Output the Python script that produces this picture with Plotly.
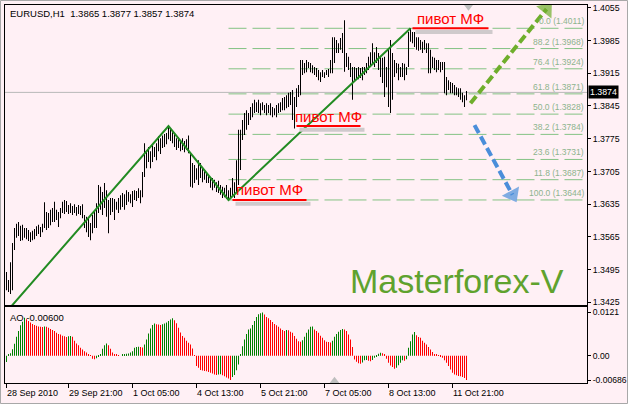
import plotly.graph_objects as go

# ---------------- data ----------------
highs = [1.3490, 1.3473, 1.3511, 1.3552, 1.3584, 1.3593, 1.3597, 1.3589, 1.3591, 1.3584,
         1.3584, 1.3580, 1.3575, 1.3578, 1.3582, 1.3588, 1.3591, 1.3586, 1.3593, 1.3639,
         1.3618, 1.3616, 1.3623, 1.3627, 1.3640, 1.3623, 1.3618, 1.3627, 1.3640, 1.3644,
         1.3642, 1.3633, 1.3637, 1.3631, 1.3635, 1.3629, 1.3633, 1.3631, 1.3635, 1.3612,
         1.3608, 1.3605, 1.3595, 1.3612, 1.3618, 1.3637, 1.3676, 1.3672, 1.3661, 1.3680,
         1.3665, 1.3644, 1.3648, 1.3648, 1.3646, 1.3640, 1.3648, 1.3654, 1.3659, 1.3656,
         1.3665, 1.3661, 1.3656, 1.3663, 1.3665, 1.3663, 1.3669, 1.3665, 1.3704, 1.3765,
         1.3751, 1.3757, 1.3748, 1.3761, 1.3757, 1.3765, 1.3780, 1.3776, 1.3782, 1.3785,
         1.3787, 1.3802, 1.3797, 1.3789, 1.3785, 1.3776, 1.3778, 1.3772, 1.3776, 1.3770,
         1.3774, 1.3782, 1.3744, 1.3723, 1.3719, 1.3712, 1.3729, 1.3723, 1.3714, 1.3708,
         1.3704, 1.3697, 1.3691, 1.3691, 1.3687, 1.3682, 1.3685, 1.3676, 1.3672, 1.3670,
         1.3676, 1.3665, 1.3670, 1.3691, 1.3682, 1.3729, 1.3794, 1.3794, 1.3815, 1.3830,
         1.3836, 1.3830, 1.3843, 1.3851, 1.3858, 1.3853, 1.3858, 1.3851, 1.3853, 1.3847,
         1.3851, 1.3847, 1.3851, 1.3843, 1.3840, 1.3847, 1.3851, 1.3853, 1.3862, 1.3864,
         1.3868, 1.3873, 1.3875, 1.3879, 1.3864, 1.3883, 1.3890, 1.3943, 1.3943, 1.3937,
         1.3943, 1.3939, 1.3937, 1.3932, 1.3928, 1.3926, 1.3922, 1.3917, 1.3922, 1.3917,
         1.3922, 1.3924, 1.3943, 1.3992, 1.3992, 1.3986, 1.3979, 1.3990, 1.4001, 1.4028,
         1.3958, 1.3950, 1.3937, 1.3928, 1.3928, 1.3926, 1.3928, 1.3926, 1.3928, 1.3928,
         1.3937, 1.3950, 1.3960, 1.3979, 1.3960, 1.3971, 1.3958, 1.3950, 1.3948, 1.3950,
         1.3928, 1.3965, 1.3986, 1.3958, 1.3943, 1.3937, 1.3935, 1.3928, 1.3937, 1.3935,
         1.3928, 1.4003, 1.4011, 1.4003, 1.4003, 1.3992, 1.3992, 1.3986, 1.3982, 1.3986,
         1.3979, 1.3979, 1.3965, 1.3950, 1.3948, 1.3943, 1.3943, 1.3939, 1.3939, 1.3939,
         1.3907, 1.3900, 1.3896, 1.3894, 1.3890, 1.3885, 1.3883, 1.3883, 1.3873, 1.3868,
         1.3877]
lows = [1.3451, 1.3447, 1.3443, 1.3451, 1.3537, 1.3563, 1.3567, 1.3556, 1.3558, 1.3563,
        1.3560, 1.3556, 1.3554, 1.3558, 1.3560, 1.3567, 1.3571, 1.3565, 1.3575, 1.3584,
        1.3580, 1.3584, 1.3590, 1.3597, 1.3597, 1.3601, 1.3586, 1.3605, 1.3616, 1.3614,
        1.3618, 1.3614, 1.3616, 1.3612, 1.3616, 1.3610, 1.3614, 1.3612, 1.3605, 1.3584,
        1.3575, 1.3565, 1.3558, 1.3573, 1.3584, 1.3584, 1.3616, 1.3623, 1.3612, 1.3627,
        1.3608, 1.3573, 1.3612, 1.3618, 1.3601, 1.3623, 1.3616, 1.3623, 1.3629, 1.3623,
        1.3633, 1.3640, 1.3637, 1.3629, 1.3644, 1.3642, 1.3648, 1.3637, 1.3650, 1.3693,
        1.3712, 1.3725, 1.3712, 1.3725, 1.3736, 1.3729, 1.3748, 1.3742, 1.3755, 1.3757,
        1.3763, 1.3774, 1.3770, 1.3765, 1.3757, 1.3751, 1.3755, 1.3748, 1.3751, 1.3746,
        1.3751, 1.3744, 1.3672, 1.3670, 1.3680, 1.3687, 1.3676, 1.3691, 1.3682, 1.3687,
        1.3680, 1.3680, 1.3670, 1.3665, 1.3670, 1.3661, 1.3659, 1.3655, 1.3648, 1.3650,
        1.3646, 1.3644, 1.3646, 1.3653, 1.3648, 1.3661, 1.3676, 1.3708, 1.3772, 1.3783,
        1.3794, 1.3804, 1.3815, 1.3821, 1.3830, 1.3832, 1.3830, 1.3825, 1.3836, 1.3830,
        1.3825, 1.3830, 1.3825, 1.3821, 1.3825, 1.3821, 1.3830, 1.3832, 1.3836, 1.3836,
        1.3840, 1.3843, 1.3847, 1.3815, 1.3797, 1.3843, 1.3864, 1.3868, 1.3911, 1.3915,
        1.3917, 1.3926, 1.3917, 1.3915, 1.3911, 1.3907, 1.3900, 1.3896, 1.3907, 1.3905,
        1.3911, 1.3907, 1.3915, 1.3915, 1.3937, 1.3958, 1.3958, 1.3965, 1.3958, 1.3918,
        1.3928, 1.3922, 1.3907, 1.3858, 1.3900, 1.3905, 1.3902, 1.3905, 1.3900, 1.3911,
        1.3915, 1.3922, 1.3928, 1.3937, 1.3928, 1.3937, 1.3922, 1.3907, 1.3894, 1.3864,
        1.3885, 1.3843, 1.3830, 1.3858, 1.3907, 1.3915, 1.3900, 1.3907, 1.3907, 1.3900,
        1.3911, 1.3928, 1.3982, 1.3979, 1.3971, 1.3965, 1.3963, 1.3965, 1.3958, 1.3965,
        1.3958, 1.3915, 1.3915, 1.3926, 1.3922, 1.3917, 1.3922, 1.3917, 1.3922, 1.3872,
        1.3868, 1.3879, 1.3872, 1.3872, 1.3868, 1.3868, 1.3864, 1.3858, 1.3853, 1.3843,
        1.3857]
last_open = 1.3865
last_close = 1.3874

ao_values = [-0.0018, 0.0003, 0.0007, 0.0018, 0.0033, 0.0053, 0.0069, 0.0085, 0.0095, 0.0106,
             0.0102, 0.0097, 0.0093, 0.0089, 0.0086, 0.0084, 0.0082, 0.0081, 0.0080, 0.0082,
             0.0081, 0.0078, 0.0075, 0.0072, 0.0069, 0.0064, 0.0061, 0.0059, 0.0056, 0.0054,
             0.0052, 0.0054, 0.0055, 0.0053, 0.0042, 0.0034, 0.0029, 0.0022, 0.0017, 0.0012,
             0.0009, 0.0003, 0.0001, -0.0009, -0.0010, -0.0007, -0.0002, 0.0003, 0.0019, 0.0029,
             0.0034, 0.0029, 0.0019, 0.0009, 0.0003, 0.0002, 0.0001, 0.0000, 0.0003, 0.0004,
             0.0005, 0.0006, 0.0009, 0.0012, 0.0022, 0.0024, 0.0025, 0.0024, 0.0023, 0.0031,
             0.0045, 0.0062, 0.0076, 0.0086, 0.0090, 0.0088, 0.0087, 0.0086, 0.0088, 0.0090,
             0.0093, 0.0097, 0.0101, 0.0105, 0.0099, 0.0091, 0.0078, 0.0065, 0.0055, 0.0050,
             0.0042, 0.0036, 0.0031, 0.0020, 0.0001, -0.0029, -0.0034, -0.0040, -0.0042, -0.0043,
             -0.0044, -0.0046, -0.0048, -0.0050, -0.0053, -0.0054, -0.0053, -0.0052, -0.0055, -0.0058,
             -0.0061, -0.0064, -0.0068, -0.0060, -0.0054, -0.0041, -0.0025, 0.0003, 0.0026, 0.0045,
             0.0061, 0.0073, 0.0076, 0.0086, 0.0097, 0.0108, 0.0116, 0.0119, 0.0121, 0.0115,
             0.0108, 0.0105, 0.0100, 0.0094, 0.0089, 0.0085, 0.0081, 0.0076, 0.0072, 0.0069,
             0.0072, 0.0071, 0.0067, 0.0064, 0.0055, 0.0047, 0.0040, 0.0039, 0.0043, 0.0053,
             0.0064, 0.0073, 0.0081, 0.0082, 0.0073, 0.0069, 0.0064, 0.0056, 0.0050, 0.0043,
             0.0039, 0.0038, 0.0037, 0.0042, 0.0053, 0.0061, 0.0067, 0.0072, 0.0075, 0.0073,
             0.0069, 0.0059, 0.0045, 0.0024, -0.0011, -0.0017, -0.0021, -0.0023, -0.0019, -0.0013,
             -0.0012, -0.0014, -0.0016, -0.0012, -0.0006, -0.0002, 0.0005, 0.0008, 0.0007, 0.0002,
             -0.0009, -0.0020, -0.0028, -0.0032, -0.0037, -0.0034, -0.0027, -0.0020, -0.0013, -0.0014,
             -0.0010, 0.0022, 0.0040, 0.0059, 0.0066, 0.0057, 0.0052, 0.0050, 0.0042, 0.0036,
             0.0031, 0.0024, 0.0017, 0.0010, 0.0004, 0.0002, 0.0001, -0.0003, -0.0006, -0.0013,
             -0.0020, -0.0029, -0.0039, -0.0048, -0.0053, -0.0055, -0.0057, -0.0058, -0.0060, -0.0063,
             -0.00686]
ao_current_label = "AO -0.00600"

tick_bars = [0, 31, 63, 95, 127, 159, 191, 223]
tick_labels = ["28 Sep 2010", "29 Sep 21:00", "1 Oct 05:00", "4 Oct 13:00",
               "5 Oct 21:00", "7 Oct 05:00", "8 Oct 13:00", "11 Oct 21:00"]
price_ticks = [1.4055, 1.3985, 1.3915, 1.3845, 1.3775, 1.3705, 1.3635, 1.3565, 1.3495, 1.3425]
ao_ticks = [0.0121, 0.0, -0.00686]
ao_tick_labels = ["0.0121", "0.00", "-0.00686"]

zigzag_bars = [-2, 81, 111, 202]
zigzag_prices = [1.3395, 1.3802, 1.3644, 1.4011]

fib_ratios = [1.0, 0.882, 0.764, 0.618, 0.5, 0.382, 0.236, 0.118, 0.0]
fib_names = ["0.0", "88.2", "76.4", "61.8", "50.0", "38.2", "23.6", "11.8", "100.0"]
fib_start_bar = 111
fib_end_bar = 288

pivot_from = [203, 145, 113]
pivot_to = [241, 177, 150]
pivot_text = "пивот МФ"

up_arrow_bars = [232, 270]
up_arrow_prices = [1.3851, 1.4052]
down_arrow_bars = [234, 253]
down_arrow_prices = [1.3804, 1.3655]

# ---------------- styling ----------------
BG = "#FFF0F5"
FONT = "Liberation Sans, Arial, sans-serif"
bars = list(range(len(highs)))
fib_low, fib_high = zigzag_prices[2], zigzag_prices[3]
pivot_prices = [zigzag_prices[3], zigzag_prices[1], zigzag_prices[2]]
BAR_W = 0.1  # thin bars are widened by plotly to exactly one device pixel

fig = go.Figure()

# price bars (high-low range)
fig.add_trace(go.Bar(x=bars, base=lows, y=[h - l for h, l in zip(highs, lows)],
                     width=BAR_W, marker=dict(color="black", line=dict(width=0)),
                     xaxis="x", yaxis="y", hoverinfo="skip"))
# zigzag
fig.add_trace(go.Scatter(x=zigzag_bars, y=zigzag_prices, mode="lines",
                         line=dict(color="#228B22", width=2), xaxis="x", yaxis="y"))
# forecast arrows
fig.add_trace(go.Scatter(x=up_arrow_bars, y=up_arrow_prices, mode="lines+markers",
                         line=dict(color="#6FAE2C", width=4, dash="9px,4px"),
                         marker=dict(symbol="triangle-up", size=[0, 17], color="#6FAE2C",
                                     angleref="previous", line=dict(width=0)),
                         xaxis="x", yaxis="y"))
fig.add_trace(go.Scatter(x=down_arrow_bars, y=down_arrow_prices, mode="lines+markers",
                         line=dict(color="#4A8EDA", width=4, dash="9px,4px"),
                         marker=dict(symbol="triangle-up", size=[0, 17], color="#4A8EDA",
                                     angleref="previous", line=dict(width=0)),
                         xaxis="x", yaxis="y"))

# AO histogram, coloured by direction
ao_colors = ["#008000"] + ["#008000" if ao_values[i] > ao_values[i - 1] else "#FF0000"
                           for i in range(1, len(ao_values))]
fig.add_trace(go.Bar(x=bars, y=ao_values, width=BAR_W,
                     marker=dict(color=ao_colors, line=dict(width=0)),
                     xaxis="x2", yaxis="y2", hoverinfo="skip"))

# gray markers (chart shift / separator)
fig.add_trace(go.Scatter(x=[bars[-1] + 1], y=[1.4058], mode="markers", cliponaxis=False,
                         marker=dict(symbol="triangle-down", size=9, color="#BEBEBE"),
                         xaxis="x", yaxis="y"))
fig.add_trace(go.Scatter(x=[164], y=[-0.0072], mode="markers", cliponaxis=False,
                         marker=dict(symbol="triangle-up", size=9, color="#BEBEBE"),
                         xaxis="x2", yaxis="y2"))

shapes = []
# current price line
shapes.append(dict(type="line", xref="x domain", x0=0, x1=1, yref="y",
                   y0=last_close, y1=last_close, line=dict(color="#B8B8B8", width=1),
                   layer="below"))
# fibonacci levels
for r in fib_ratios:
    p = fib_low + r * (fib_high - fib_low)
    shapes.append(dict(type="line", xref="x", yref="y", x0=fib_start_bar, x1=fib_end_bar,
                       y0=p, y1=p, line=dict(color="#84C284", width=1, dash="18px,6px"),
                       layer="below"))
# pivot underlines with shadow
for a, b, p in zip(pivot_from, pivot_to, pivot_prices):
    shapes.append(dict(type="line", xref="x", yref="y", x0=a + 1.5, x1=b + 2,
                       y0=p - 0.0008, y1=p - 0.0008,
                       line=dict(color="#CFCACC", width=4)))
    shapes.append(dict(type="line", xref="x", yref="y", x0=a, x1=b, y0=p, y1=p,
                       line=dict(color="#FF0000", width=2)))
# outer window frame
shapes.append(dict(type="rect", xref="paper", yref="paper",
                   x0=-4.5 / 582, x1=622.5 / 582, y0=-20.5 / 378, y1=382.5 / 378,
                   line=dict(color="#A8A8A8", width=1), layer="below"))

annotations = []
annotations.append(dict(xref="paper", yref="paper", x=0.005, y=0.9788, xanchor="left",
                        yanchor="middle", showarrow=False,
                        text=f"EURUSD,H1\u00a0\u00a0{last_open:.4f} {highs[-1]:.4f} {lows[-1]:.4f} {last_close:.4f}",
                        font=dict(family=FONT, size=9.5, color="black")))
annotations.append(dict(xref="paper", yref="paper", x=0.005, y=0.1746, xanchor="left",
                        yanchor="middle", showarrow=False, text=ao_current_label,
                        font=dict(family=FONT, size=9.5, color="black")))
for r, name in zip(fib_ratios, fib_names):
    p = fib_low + r * (fib_high - fib_low)
    annotations.append(dict(xref="x domain", x=1, xshift=-1, yref="y", y=p,
                            xanchor="right", yanchor="bottom", showarrow=False,
                            text=f"{name} ({p:.4f})",
                            font=dict(family=FONT, size=8.5, color="#8DB48D")))
for a, b, p in zip(pivot_from, pivot_to, pivot_prices):
    annotations.append(dict(xref="x", yref="y", x=(a + b) / 2, y=p, yshift=10,
                            xanchor="center", yanchor="middle", showarrow=False,
                            text=pivot_text, font=dict(family=FONT, size=15, color="#FF0000")))
annotations.append(dict(xref="paper", yref="paper", x=0.7767, y=0.2699, xanchor="center",
                        yanchor="middle", showarrow=False, text="Masterforex-V",
                        font=dict(family=FONT, size=34, color="#5FA22E")))
annotations.append(dict(xref="x domain", x=1, xshift=1, yref="y", y=last_close,
                        xanchor="left", yanchor="middle", showarrow=False,
                        text=f"{last_close:.4f}", bgcolor="black", borderpad=1,
                        font=dict(family=FONT, size=8.8, color="white")))
for b, t in zip(tick_bars, tick_labels):
    annotations.append(dict(xref="x2", yref="paper", x=b, xshift=-2, y=-0.0265,
                            xanchor="left", yanchor="middle", showarrow=False, text=t,
                            font=dict(family=FONT, size=9, color="black")))

axis_common = dict(showgrid=False, zeroline=False, showline=True, mirror=True,
                   linecolor="black", linewidth=1, automargin=False)
fig.update_layout(
    width=628, height=404, margin=dict(l=5, r=41, t=5, b=21, autoexpand=False),
    paper_bgcolor=BG, plot_bgcolor=BG, showlegend=False, barmode="overlay",
    xaxis=dict(domain=[0, 1], range=[-0.75, 290.25], anchor="y", showticklabels=False,
               ticks="", **axis_common),
    yaxis=dict(domain=[0.2063, 1], range=[1.34194, 1.40608], side="right", anchor="x",
               tickvals=price_ticks, ticktext=[f"{v:.4f}" for v in price_ticks],
               ticks="outside", ticklen=3, tickcolor="black",
               tickfont=dict(family=FONT, size=8.8, color="black"), **axis_common),
    xaxis2=dict(domain=[0, 1], matches="x", anchor="y2", tickvals=tick_bars,
                showticklabels=False, ticks="outside", ticklen=4, tickcolor="black",
                **axis_common),
    yaxis2=dict(domain=[0, 0.2011], range=[-0.00767, 0.01364], side="right", anchor="x2",
                tickvals=ao_ticks, ticktext=ao_tick_labels, ticks="outside", ticklen=3,
                tickcolor="black", tickfont=dict(family=FONT, size=8.6, color="black"),
                **axis_common),
    shapes=shapes, annotations=annotations,
)

fig.write_html("out.html", config={"displayModeBar": False},
               post_script="document.body.style.margin='0px';document.body.style.padding='0px';")
